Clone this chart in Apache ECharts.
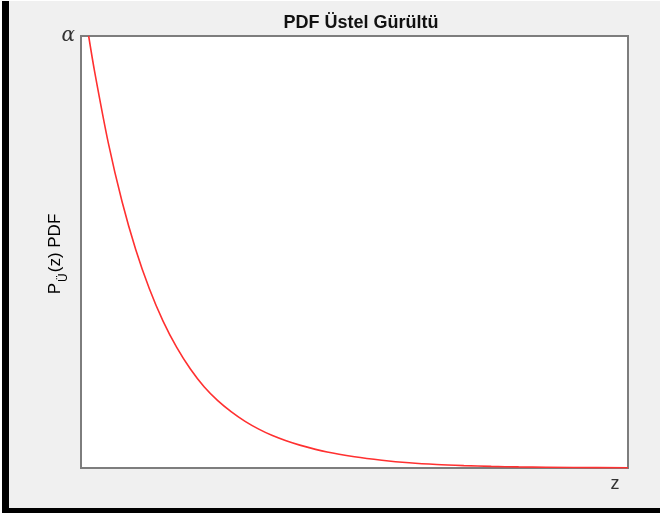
<!DOCTYPE html>
<html>
<head>
<meta charset="utf-8">
<script src="https://cdn.jsdelivr.net/npm/echarts@6/dist/echarts.min.js"></script>
<style>
	html, body { margin: 0; padding: 0; background: #fff; }
	.frame {
		position: absolute; left: 2px; top: 1px; width: 651px; height: 507px;
		background: #f0f0f0; border-left: 7px solid #000; border-bottom: 5px solid #000;
	}
	#chart { position: absolute; left: 0; top: 0; width: 660px; height: 513px; }
</style>
</head>
<body>
<div class="frame"></div>
<div id="chart"></div>
<script>
// values (z in arbitrary units 0..10, pdf normalised so alpha = 1)
const zValues = [0.14, 0.25, 0.5, 0.75, 1.0, 1.25, 1.5, 1.75, 2.0, 2.25, 2.5, 2.75, 3.0, 3.25, 3.5, 3.75, 4.0, 4.5, 5.0, 5.5, 6.0, 6.5, 7.0, 7.5, 8.0, 9.0, 10.0]
const pdfValues = [1.0, 0.917, 0.752, 0.617, 0.506, 0.415, 0.34, 0.279, 0.229, 0.188, 0.156, 0.13, 0.108, 0.09, 0.075, 0.063, 0.053, 0.037, 0.026, 0.018, 0.012, 0.008, 0.0055, 0.0037, 0.0025, 0.0011, 0.0005]
const yTickLabels = { 1: 'α' }

const chart = echarts.init(document.getElementById('chart'))
chart.setOption({
	backgroundColor: 'transparent',
	animation: false,
	title: {
		text: 'PDF Üstel Gürültü',
		left: 356,
		top: 9,
		textAlign: 'center',
		textStyle: { fontFamily: 'Liberation Sans, Arial', fontSize: 18, fontWeight: 'bold', color: '#111' }
	},
	grid: {
		left: 81,
		top: 36,
		width: 547,
		height: 432,
		show: true,
		backgroundColor: '#fff',
		borderColor: '#7d7d7d',
		borderWidth: 2
	},
	xAxis: {
		type: 'value',
		min: 0,
		max: 10,
		axisLine: { show: false },
		axisTick: { show: false },
		axisLabel: { show: false },
		splitLine: { show: false }
	},
	yAxis: {
		type: 'value',
		min: 0,
		max: 1,
		interval: 1,
		axisLine: { show: false },
		axisTick: { show: false },
		splitLine: { show: false },
		axisLabel: {
			margin: 6,
			formatter: v => yTickLabels[v] || '',
			fontFamily: 'DejaVu Serif, serif',
			fontStyle: 'italic',
			fontSize: 20,
			color: '#333'
		}
	},
	graphic: [
		{
			type: 'text',
			x: 58,
			y: 254,
			rotation: Math.PI / 2,
			style: {
				text: '{a|P}{s|Ü}{a|(z) PDF}',
				align: 'center',
				verticalAlign: 'middle',
				rich: {
					a: { fontFamily: 'Liberation Sans, Arial', fontSize: 17, color: '#333', verticalAlign: 'bottom', padding: [0, 0, 6, 0] },
					s: { fontFamily: 'Liberation Sans, Arial', fontSize: 12, color: '#333', verticalAlign: 'bottom', padding: [0, 1, 0, 1] }
				}
			}
		},
		{
			type: 'text',
			x: 615,
			y: 484,
			style: {
				text: 'z',
				align: 'center',
				verticalAlign: 'middle',
				fontFamily: 'Liberation Sans, Arial',
				fontSize: 18,
				fill: '#333'
			}
		}
	],
	series: [
		{
			type: 'line',
			data: zValues.map((z, i) => [z, pdfValues[i]]),
			showSymbol: false,
			smooth: 0.3,
			clip: true,
			lineStyle: { color: '#ff3030', width: 1.6 }
		}
	]
})
</script>
</body>
</html>
